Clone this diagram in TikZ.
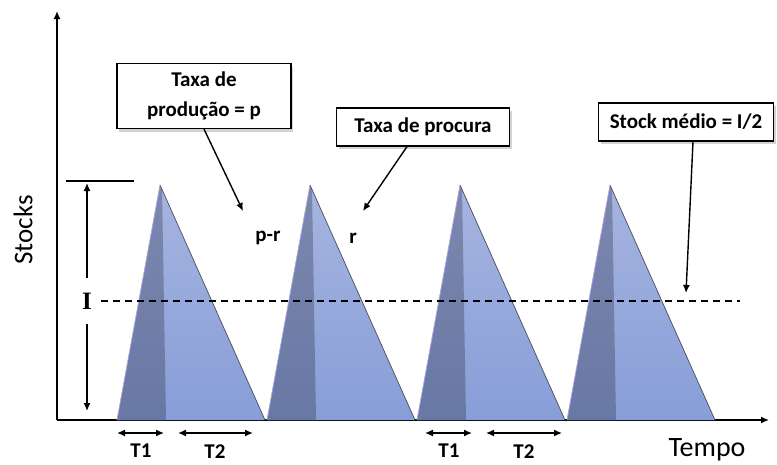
\documentclass[tikz,border=0pt]{standalone}
\usepackage{fontspec}
\setmainfont{Carlito}
\newfontfamily\seriffont{Liberation Serif}
\usetikzlibrary{shadows,arrows.meta}
\definecolor{facelight}{RGB}{166,180,224}
\definecolor{facelightb}{RGB}{136,158,216}
\definecolor{facedark}{RGB}{124,136,174}
\definecolor{facedarkb}{RGB}{104,120,164}

\begin{document}
\begin{tikzpicture}[x=1pt,y=-1pt,>={Latex[length=8pt,width=7pt]},
  callout/.style={draw,line width=1.2pt,fill=white,align=center,font=\fontsize{21}{30}\selectfont\bfseries,
    drop shadow={shadow xshift=2pt,shadow yshift=-3pt,opacity=0.35}},
  lbl/.style={font=\fontsize{21}{24}\selectfont\bfseries},
  ln/.style={line width=1.4pt}]
 \useasboundingbox (0,0) rectangle (777,464);
 % axes
 \draw[->,ln] (57,420) -- (57,11);
 \draw[->,ln] (57,420) -- (769,420);
 \node[rotate=90,font=\fontsize{27}{30}\selectfont] (stocks) at (23,230) {Stocks};
 \node[font=\fontsize{28}{30}\selectfont] (tempo) at (707,450) {Tempo};
 % saw-tooth stock levels
 \foreach \b in {117,267,417,567} {
   \shade[top color=facelight,bottom color=facelightb]
     (\b,420) -- (\b+43,185) -- (\b+148,420) -- cycle;
   \shade[top color=facedark,bottom color=facedarkb]
     (\b,420) -- (\b+43,185) -- (\b+45,190) -- (\b+49,420) -- cycle;
   \draw[gray!60!black,line width=0.7pt] (\b+43,185) -- (\b+148,420);
   \draw[blue!35!white,line width=0.7pt] (\b,420) -- (\b+43,185);
 }
 % maximum stock I
 \draw[ln] (66,181) -- (134,181);
 \node[font=\seriffont\fontsize{25}{26}\selectfont\bfseries] (imax) at (87,301) {I};
 \coordinate (itop) at (87,183);
 \coordinate (ibot) at (87,411);
 \draw[->,ln] (imax.north) ++(0,-11) -- (itop);
 \draw[->,ln] (imax.south) ++(0,11) -- (ibot);
 \draw[ln,dash pattern=on 7pt off 5pt] (101,301) -- (740,301);
 % periods
 \foreach \t/\a/\c in {1/117/164,2/178/253,3/425/472,4/486/562} {
   \coordinate (pa\t) at (\a,433);
   \coordinate (pb\t) at (\c,433);
   \draw[<->,ln] (pa\t) -- (pb\t);
 }
 \node[lbl] (ta) at (141,451) {T1};
 \node[lbl] (tb) at (215,452) {T2};
 \node[lbl] (tc) at (449,451) {T1};
 \node[lbl] (td) at (524,452) {T2};
 % rates
 \node[lbl] (pr) at (268,238) {p-r};
 \node[lbl] (r) at (353,238) {r};
 \node[callout,minimum width=174pt,minimum height=65pt] (prod) at (204,96) {Taxa de\\produção = p};
 \node[callout,minimum width=173pt,minimum height=38pt] (proc) at (423,127) {Taxa de procura};
 \node[callout,minimum width=175pt,minimum height=38pt] (medio) at (686,122) {Stock médio = I/2};
 \coordinate (prodend) at (243,211);
 \coordinate (procend) at (363,211);
 \coordinate (medioend) at (686,293);
 \draw[->,ln] (prod.south) -- (prodend);
 \draw[->,ln] (proc.south) ++(-16,0) -- (procend);
 \draw[->,ln] (medio.south) ++(7,0) -- (medioend);
\end{tikzpicture}
\end{document}
